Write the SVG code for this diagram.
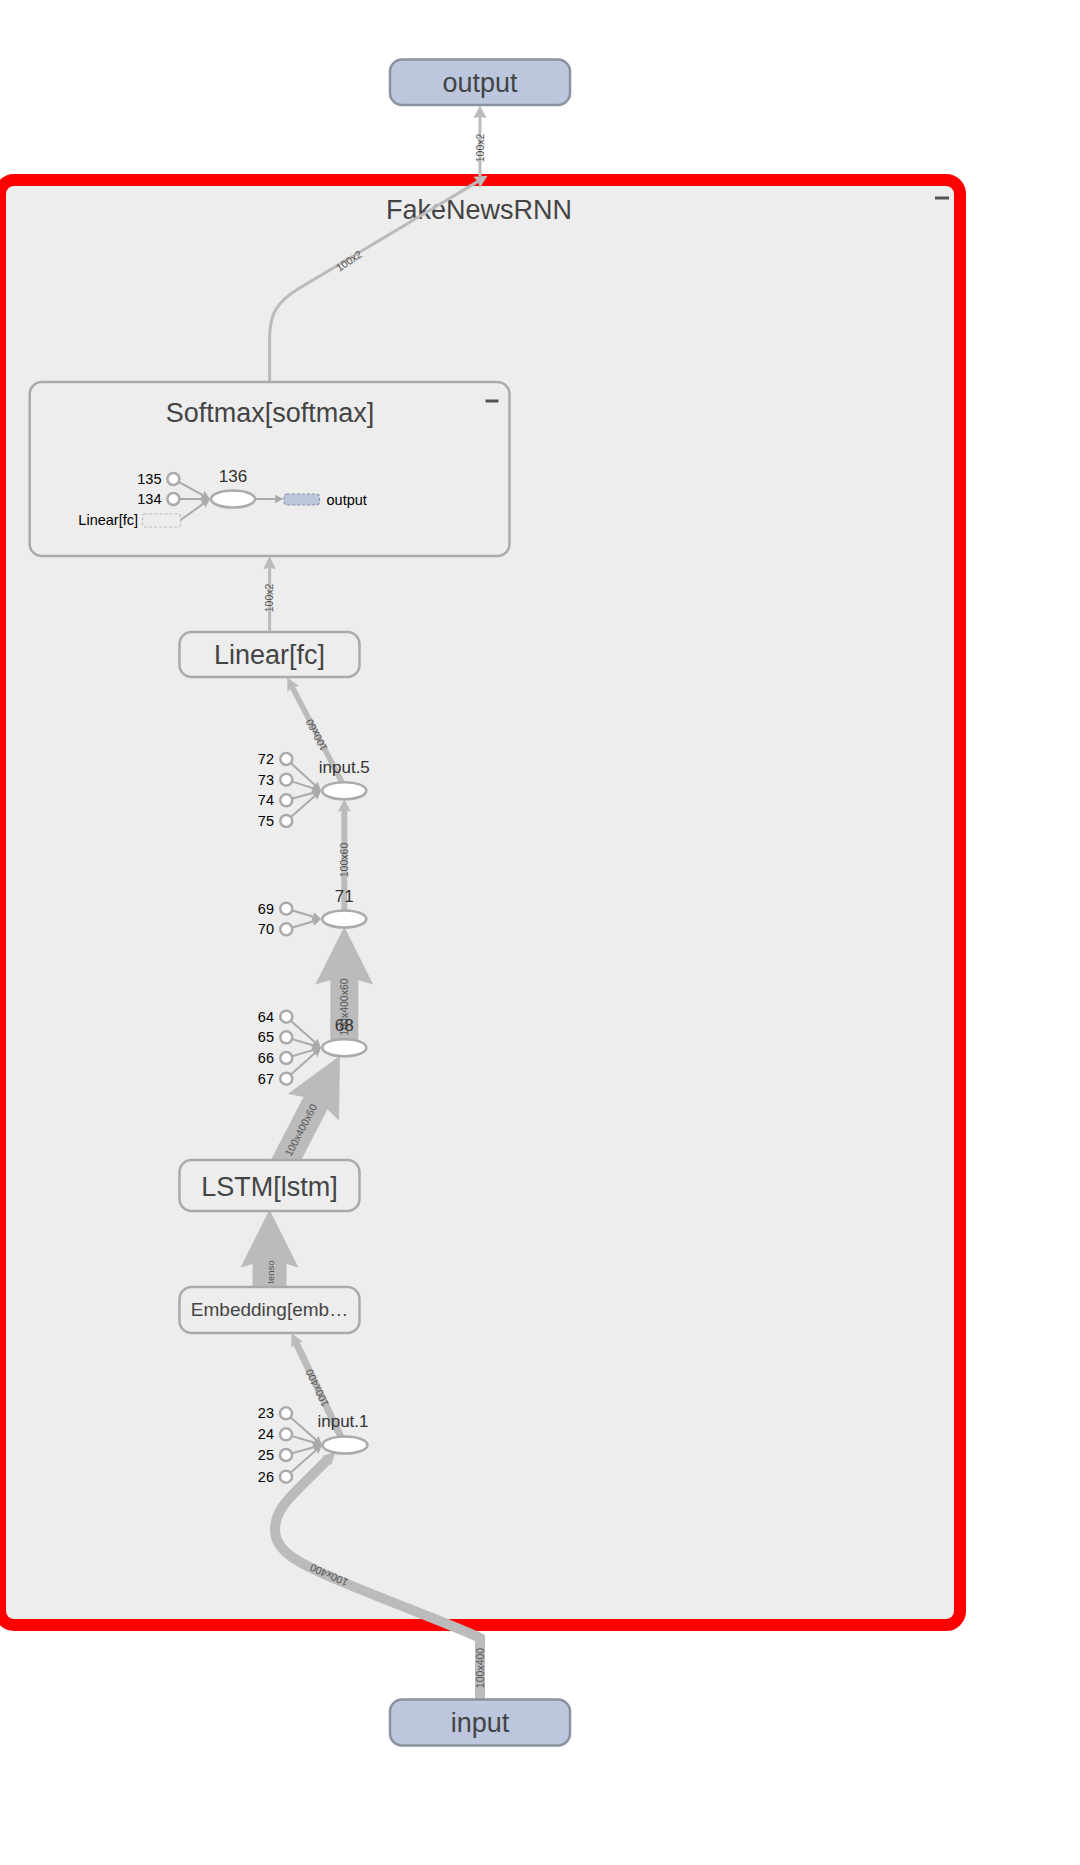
<svg xmlns="http://www.w3.org/2000/svg" width="1080" height="1865" viewBox="0 0 1080 1865">
<style>
text{font-family:"Liberation Sans",Arial,Helvetica,sans-serif}
.big{font-size:27px;fill:#444;text-anchor:middle}
.box{fill:#ededed;stroke:#aaa;stroke-width:2.5}
.io{fill:#bcc6dd;stroke:#8a919f;stroke-width:2.5}
.edge{fill:none;stroke:#bbb}
.sedge{fill:none;stroke:#aaa;stroke-width:2}
.elbl{font-size:10.5px;fill:#555;text-anchor:middle}
.num{font-size:14.5px;fill:#000;text-anchor:end}
.opl{font-size:17px;fill:#333;text-anchor:middle}
.const{fill:#fff;stroke:#aaa;stroke-width:2.5}
.op{fill:#fff;stroke:#aaa;stroke-width:2.5}
</style>
<defs>
<marker id="ah" viewBox="0 0 10 10" refX="1.5" refY="5" markerUnits="userSpaceOnUse" markerWidth="13" markerHeight="13" orient="auto"><path d="M0,0 L10,5 L0,10 L1.5,5 z" fill="#bbb"/></marker>
<marker id="ahL" viewBox="0 0 10 10" refX="1.5" refY="5" markerUnits="userSpaceOnUse" markerWidth="58" markerHeight="58" orient="auto"><path d="M0,0 L10,5 L0,10 L1.5,5 z" fill="#bbb"/></marker>
<marker id="ahS" viewBox="0 0 10 10" refX="1.5" refY="5" markerUnits="userSpaceOnUse" markerWidth="9" markerHeight="9" orient="auto"><path d="M0,0 L10,5 L0,10 L1.5,5 z" fill="#aaa"/></marker>
</defs>
<rect width="1080" height="1865" fill="#fff"/>

<g id="FakeNewsRNN">
<rect x="0" y="180" width="960" height="1445" rx="14" fill="#ededed" stroke="#ff0000" stroke-width="12"/>
<text class="big" x="479" y="219">FakeNewsRNN</text>
<rect x="935" y="196.5" width="14" height="3" fill="#555"/>
</g>

<g id="connectors">
<!-- FakeNewsRNN -> output -->
<path class="edge" stroke-width="3" d="M480,176 V116.4" marker-end="url(#ah)"/>
<text class="elbl" transform="translate(480,148) rotate(-90)" dy="0.35em">100x2</text>
<!-- Softmax -> FakeNewsRNN boundary -->
<path class="edge" stroke-width="3" d="M269.6,382 V338 C269.6,314 277,302 298,289 L478.1,181.4" marker-end="url(#ah)"/>
<text class="elbl" transform="translate(349,261) rotate(-34)" dy="0.35em">100x2</text>
<!-- Linear -> Softmax -->
<path class="edge" stroke-width="3" d="M269.6,632 V567.4" marker-end="url(#ah)"/>
<text class="elbl" transform="translate(269.6,598) rotate(-90)" dy="0.35em">100x2</text>
<!-- input.5 -> Linear -->
<path class="edge" stroke-width="5.5" d="M341.7,781.7 L292.3,687.2" marker-end="url(#ah)"/>
<text class="elbl" transform="translate(316.5,735) rotate(-117.6)" dy="0.35em">100x60</text>
<!-- 71 -> input.5 -->
<path class="edge" stroke-width="6" d="M344.3,912 V809.9" marker-end="url(#ah)"/>
<text class="elbl" transform="translate(344.3,860) rotate(-90)" dy="0.35em">100x60</text>
<!-- 68 -> 71 -->
<path class="edge" stroke-width="28" d="M344.3,1046 V975.9" marker-end="url(#ahL)"/>
<text class="elbl" transform="translate(344.3,1007) rotate(-90)" dy="0.35em">100x400x60</text>
<!-- LSTM -> 68 -->
<path class="edge" stroke-width="27" d="M279.9,1172 L317.3,1099.6" marker-end="url(#ahL)"/>
<text class="elbl" transform="translate(301,1130) rotate(-62.5)" dy="0.35em">100x400x60</text>
<!-- Embedding -> LSTM -->
<path class="edge" stroke-width="34" d="M269.5,1296 V1258.9" marker-end="url(#ahL)"/>
<text class="elbl" style="font-size:9.5px" transform="translate(270.7,1272) rotate(-90)" dy="0.35em">tenso</text>
<!-- input.1 -> Embedding -->
<path class="edge" stroke-width="7" d="M341,1437 L296.2,1342.9" marker-end="url(#ah)"/>
<text class="elbl" transform="translate(317,1388) rotate(-115.5)" dy="0.35em">100x400</text>
<!-- input -> input.1 -->
<path class="edge" stroke-width="10" d="M480,1705 V1638 C460,1628 400,1606 340,1581 C300,1564 275,1552 275,1530 C275,1512 287,1500 300,1487 L327.9,1459.3" marker-end="url(#ah)"/>
<text class="elbl" transform="translate(329,1575) rotate(-156)" dy="0.35em">100x400</text>
<text class="elbl" transform="translate(480,1668) rotate(-90)" dy="0.35em">100x400</text>

<!-- Softmax internals -->
<path class="sedge" d="M178.2,481.6 L203.3,495.3" marker-end="url(#ahS)"/>
<path class="sedge" d="M178.9,499 L202.4,499" marker-end="url(#ahS)"/>
<path class="sedge" d="M180.5,520 L203.8,503.4" marker-end="url(#ahS)"/>
<path class="sedge" d="M255,499 L275.9,499" marker-end="url(#ahS)"/>
<!-- input.5 inputs -->
<path class="sedge" d="M290.4,762.7 L315.4,785.5" marker-end="url(#ahS)"/>
<path class="sedge" d="M291.5,781.4 L313.7,788.4" marker-end="url(#ahS)"/>
<path class="sedge" d="M291.6,798.8 L313.6,792.7" marker-end="url(#ahS)"/>
<path class="sedge" d="M290.4,817.4 L315.2,795.7" marker-end="url(#ahS)"/>
<!-- 71 inputs -->
<path class="sedge" d="M291.6,910.3 L313.7,916.8" marker-end="url(#ahS)"/>
<path class="sedge" d="M291.6,927.7 L313.7,921.2" marker-end="url(#ahS)"/>
<!-- 68 inputs -->
<path class="sedge" d="M290.4,1020.4 L315.3,1042.6" marker-end="url(#ahS)"/>
<path class="sedge" d="M291.6,1038.9 L313.7,1045.5" marker-end="url(#ahS)"/>
<path class="sedge" d="M291.6,1056.4 L313.7,1049.9" marker-end="url(#ahS)"/>
<path class="sedge" d="M290.4,1075 L315.3,1052.8" marker-end="url(#ahS)"/>
<!-- input.1 inputs -->
<path class="sedge" d="M290.1,1416.9 L316.3,1440" marker-end="url(#ahS)"/>
<path class="sedge" d="M291.3,1435.9 L314.7,1442.8" marker-end="url(#ahS)"/>
<path class="sedge" d="M291.3,1453.5 L314.6,1447" marker-end="url(#ahS)"/>
<path class="sedge" d="M290.1,1473.1 L316.3,1450" marker-end="url(#ahS)"/>
</g>

<g id="output">
<rect class="io" x="390" y="59.5" width="180" height="45.5" rx="12"/>
<text class="big" x="480" y="91.5">output</text>
</g>

<g id="input">
<rect class="io" x="390" y="1699.5" width="180" height="46" rx="12"/>
<text class="big" x="480" y="1731.5">input</text>
</g>

<g id="Softmax">
<rect x="29.7" y="382" width="479.8" height="174" rx="12" fill="none" stroke="#aaa" stroke-width="2.5"/>
<text class="big" x="270" y="422">Softmax[softmax]</text>
<rect x="485.5" y="399.5" width="13" height="3" fill="#555"/>
<circle class="const" cx="173.4" cy="479" r="6"/>
<text class="num" x="161.5" y="484">135</text>
<circle class="const" cx="173.4" cy="499" r="6"/>
<text class="num" x="161.5" y="504">134</text>
<rect x="142.5" y="514" width="38" height="13" rx="2" fill="none" stroke="#bbb" stroke-width="1.2" stroke-dasharray="3,2"/>
<text class="num" x="138" y="524.5">Linear[fc]</text>
<ellipse class="op" cx="233" cy="499" rx="22" ry="8.5"/>
<text class="opl" x="233" y="482">136</text>
<rect x="284" y="494" width="35.5" height="11" rx="3" fill="#bcc6dd" stroke="#8a919f" stroke-width="1.2" stroke-dasharray="3,2"/>
<text x="326.5" y="504.5" style="font-size:14.5px;fill:#000">output</text>
</g>

<g id="Linear">
<rect class="box" x="179.5" y="632" width="180" height="45" rx="12"/>
<text class="big" x="269.5" y="664">Linear[fc]</text>
</g>

<g id="input5">
<ellipse class="op" cx="344.3" cy="790.7" rx="22" ry="8.5"/>
<text class="opl" x="344.3" y="772.7">input.5</text>
<circle class="const" cx="286.3" cy="759" r="6"/><text class="num" x="274" y="764">72</text>
<circle class="const" cx="286.3" cy="779.7" r="6"/><text class="num" x="274" y="784.7">73</text>
<circle class="const" cx="286.3" cy="800.3" r="6"/><text class="num" x="274" y="805.3">74</text>
<circle class="const" cx="286.3" cy="821" r="6"/><text class="num" x="274" y="826">75</text>
</g>

<g id="n71">
<ellipse class="op" cx="344.3" cy="919" rx="22" ry="8.5"/>
<text class="opl" x="344.3" y="901.7">71</text>
<circle class="const" cx="286.3" cy="908.7" r="6"/><text class="num" x="274" y="913.7">69</text>
<circle class="const" cx="286.3" cy="929.3" r="6"/><text class="num" x="274" y="934.3">70</text>
</g>

<g id="n68">
<ellipse class="op" cx="344.3" cy="1047.7" rx="22" ry="8.5"/>
<text class="opl" x="344.3" y="1030.7">68</text>
<circle class="const" cx="286.3" cy="1016.7" r="6"/><text class="num" x="274" y="1021.7">64</text>
<circle class="const" cx="286.3" cy="1037.3" r="6"/><text class="num" x="274" y="1042.3">65</text>
<circle class="const" cx="286.3" cy="1058" r="6"/><text class="num" x="274" y="1063">66</text>
<circle class="const" cx="286.3" cy="1078.7" r="6"/><text class="num" x="274" y="1083.7">67</text>
</g>

<g id="LSTM">
<rect class="box" x="179.5" y="1160" width="180" height="51" rx="12"/>
<text class="big" x="269.5" y="1196">LSTM[lstm]</text>
</g>

<g id="Embedding">
<rect class="box" x="179.5" y="1287" width="180" height="46" rx="12"/>
<text x="269.5" y="1316" style="font-size:19px;fill:#444;text-anchor:middle">Embedding[emb…</text>
</g>

<g id="input1">
<ellipse class="op" cx="345" cy="1445" rx="22.5" ry="8.5"/>
<text class="opl" x="343" y="1426.7">input.1</text>
<circle class="const" cx="286" cy="1413.3" r="6"/><text class="num" x="274" y="1418.3">23</text>
<circle class="const" cx="286" cy="1434.3" r="6"/><text class="num" x="274" y="1439.3">24</text>
<circle class="const" cx="286" cy="1455" r="6"/><text class="num" x="274" y="1460">25</text>
<circle class="const" cx="286" cy="1476.7" r="6"/><text class="num" x="274" y="1481.7">26</text>
</g>
</svg>
